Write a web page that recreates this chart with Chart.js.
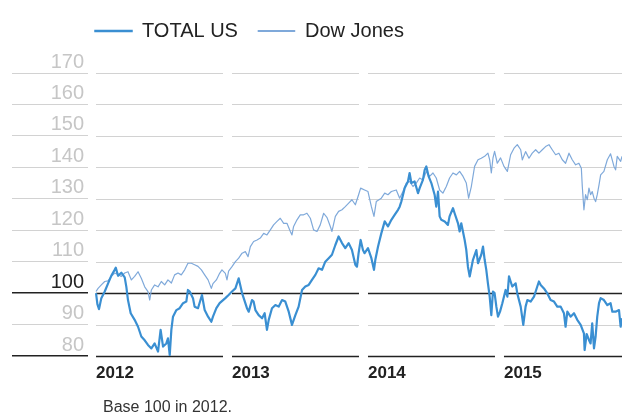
<!DOCTYPE html>
<html><head><meta charset="utf-8">
<script src="https://cdn.jsdelivr.net/npm/chart.js@4.4.0/dist/chart.umd.min.js"></script>
<style>
html,body{margin:0;padding:0;background:#fff;}
#wrap{position:relative;width:622px;height:415px;}
#note{position:absolute;left:103px;top:399px;font:16px "Liberation Sans",Arial,sans-serif;line-height:16px;color:#333;white-space:nowrap;}
</style></head><body>
<div id="wrap"><canvas id="c" width="622" height="415"></canvas><div id="note">Base 100 in 2012.</div></div>
<script>
const seriesNames = ['TOTAL US', 'Dow Jones'];
const yearTicks = [2012, 2013, 2014, 2015];
const valueTicks = [80, 90, 100, 110, 120, 130, 140, 150, 160, 170];

const totalUSTime = [2012.000,2012.010,2012.022,2012.039,2012.064,2012.088,2012.112,2012.137,2012.145,2012.162,2012.186,2012.211,2012.223,2012.235,2012.255,2012.284,2012.309,2012.333,2012.358,2012.382,2012.407,2012.431,2012.456,2012.475,2012.493,2012.517,2012.529,2012.542,2012.554,2012.566,2012.591,2012.615,2012.640,2012.664,2012.676,2012.689,2012.713,2012.725,2012.750,2012.779,2012.799,2012.824,2012.848,2012.860,2012.885,2012.909,2012.951,2012.975,
2013.000,2013.025,2013.049,2013.074,2013.086,2013.110,2013.123,2013.147,2013.159,2013.172,2013.196,2013.221,2013.240,2013.257,2013.270,2013.294,2013.319,2013.343,2013.368,2013.392,2013.417,2013.441,2013.466,2013.490,2013.515,2013.539,2013.564,2013.588,2013.613,2013.637,2013.662,2013.686,2013.711,2013.735,2013.760,2013.784,2013.809,2013.833,2013.858,2013.882,2013.907,2013.919,2013.931,2013.946,2013.963,2013.975,
2014.000,2014.025,2014.044,2014.054,2014.074,2014.098,2014.123,2014.147,2014.172,2014.196,2014.221,2014.233,2014.245,2014.270,2014.294,2014.306,2014.319,2014.343,2014.368,2014.380,2014.404,2014.417,2014.429,2014.446,2014.466,2014.490,2014.502,2014.515,2014.527,2014.539,2014.564,2014.588,2014.600,2014.625,2014.637,2014.662,2014.674,2014.686,2014.711,2014.723,2014.735,2014.748,2014.772,2014.797,2014.809,2014.833,2014.846,2014.858,2014.870,2014.882,2014.895,2014.907,2014.919,2014.931,2014.944,2014.956,2014.971,2014.988,
2015.012,2015.025,2015.037,2015.049,2015.061,2015.086,2015.098,2015.123,2015.142,2015.159,2015.172,2015.196,2015.221,2015.245,2015.257,2015.270,2015.294,2015.319,2015.343,2015.368,2015.392,2015.417,2015.441,2015.453,2015.466,2015.490,2015.515,2015.539,2015.564,2015.588,2015.593,2015.608,2015.625,2015.637,2015.649,2015.662,2015.674,2015.686,2015.699,2015.711,2015.735,2015.760,2015.784,2015.797,2015.821,2015.846,2015.858,2015.868];
const totalUSValue = [100.0,96.5,94.9,98.4,100.5,103.0,105.5,107.4,108.1,105.5,106.5,105.0,102.0,97.8,93.6,91.5,89.3,86.2,85.0,83.5,82.4,84.0,81.4,88.3,83.0,84.0,85.6,80.3,88.3,92.5,94.6,95.2,96.8,97.3,101.0,100.5,98.4,95.7,95.2,99.4,94.6,92.5,90.9,92.5,95.2,96.8,98.4,99.4,
100.5,101.5,104.7,100.0,98.4,95.2,94.1,97.8,97.3,94.6,93.0,92.0,93.6,88.3,91.5,95.2,96.2,95.7,97.8,97.3,94.1,89.9,93.0,95.7,101.0,102.1,102.6,104.2,105.8,107.9,107.4,110.0,111.1,112.2,115.3,118.0,115.9,114.3,115.9,113.7,109.0,108.4,112.7,116.9,113.7,112.7,
114.3,111.1,107.4,110.6,114.8,119.0,122.8,121.2,123.3,124.9,126.5,127.5,129.1,133.4,135.5,138.2,135.0,135.5,131.8,133.4,136.0,139.2,140.3,137.1,135.0,131.3,127.5,132.3,124.4,123.3,122.8,121.7,124.4,127.0,125.4,122.2,119.6,122.2,116.9,113.7,108.4,105.3,110.6,113.7,109.5,112.2,114.8,110.6,107.4,103.1,98.9,93.0,100.5,100.0,95.7,92.5,94.1,96.8,
101.0,98.9,105.3,103.7,102.1,103.1,99.9,95.7,89.9,95.7,97.8,97.3,98.9,102.1,103.7,102.6,101.5,99.9,97.8,97.3,95.7,95.7,93.6,89.3,94.1,92.5,93.6,91.5,89.9,87.2,81.9,87.0,85.1,84.0,90.4,82.4,86.2,92.5,96.8,98.4,97.8,96.2,96.8,94.1,94.1,94.6,89.3,92.0];

const dowTime = [2012.000,2012.015,2012.039,2012.064,2012.088,2012.113,2012.137,2012.162,2012.186,2012.211,2012.235,2012.260,2012.284,2012.309,2012.333,2012.358,2012.382,2012.395,2012.407,2012.431,2012.456,2012.480,2012.505,2012.529,2012.554,2012.578,2012.603,2012.627,2012.652,2012.676,2012.701,2012.725,2012.750,2012.775,2012.799,2012.824,2012.848,2012.860,2012.885,2012.909,2012.926,2012.951,2012.963,2012.975,
2013.000,2013.025,2013.049,2013.074,2013.098,2013.118,2013.135,2013.159,2013.184,2013.208,2013.233,2013.257,2013.282,2013.306,2013.331,2013.355,2013.380,2013.404,2013.429,2013.441,2013.453,2013.478,2013.502,2013.527,2013.551,2013.576,2013.600,2013.625,2013.649,2013.674,2013.699,2013.723,2013.735,2013.760,2013.784,2013.809,2013.833,2013.858,2013.882,2013.907,2013.931,2013.946,2013.975,
2014.000,2014.025,2014.044,2014.061,2014.098,2014.123,2014.147,2014.172,2014.208,2014.233,2014.257,2014.282,2014.306,2014.331,2014.355,2014.380,2014.404,2014.429,2014.453,2014.478,2014.502,2014.527,2014.551,2014.576,2014.600,2014.625,2014.650,2014.674,2014.699,2014.723,2014.740,2014.760,2014.784,2014.809,2014.833,2014.858,2014.882,2014.895,2014.907,2014.919,2014.931,2014.951,2014.975,
2015.000,2015.025,2015.049,2015.074,2015.098,2015.123,2015.135,2015.159,2015.184,2015.208,2015.233,2015.257,2015.282,2015.306,2015.331,2015.355,2015.380,2015.404,2015.429,2015.453,2015.478,2015.502,2015.527,2015.551,2015.569,2015.576,2015.588,2015.600,2015.613,2015.625,2015.637,2015.649,2015.662,2015.674,2015.686,2015.699,2015.711,2015.735,2015.760,2015.784,2015.809,2015.821,2015.833,2015.858,2015.868];
const dowValue = [100.5,101.5,102.6,103.7,103.9,105.3,106.4,105.9,105.3,106.4,106.8,104.2,105.3,106.8,104.7,102.0,100.5,97.8,101.0,102.6,102.0,103.7,102.6,104.2,103.2,105.8,106.4,105.8,107.4,109.5,109.5,109.0,108.5,107.4,105.8,104.2,101.5,103.0,104.2,106.3,107.4,106.3,104.2,107.0,
108.4,110.0,111.1,112.7,113.2,111.6,114.8,116.4,116.9,117.5,119.0,118.5,120.1,121.7,122.8,123.8,122.2,122.2,119.6,118.5,121.2,123.3,124.9,124.9,125.4,123.8,120.1,119.6,121.7,125.4,124.0,121.2,119.6,124.4,126.0,126.5,127.5,128.6,129.7,128.1,131.3,133.4,132.8,
132.3,127.5,124.4,129.1,130.2,131.8,131.3,132.3,132.8,130.2,132.3,135.0,135.5,133.9,135.0,136.6,136.0,138.7,137.1,138.2,136.6,132.8,131.8,133.9,136.6,138.2,137.6,138.7,137.1,135.0,130.2,133.9,140.3,142.4,142.9,143.5,144.5,142.4,138.2,142.9,145.1,141.3,143.0,
140.3,138.7,144.0,146.1,147.2,145.6,142.4,145.0,142.9,144.5,145.6,144.5,145.6,146.6,147.2,145.6,144.0,144.5,142.4,141.3,144.5,142.4,140.8,141.3,139.7,133.9,126.5,131.3,129.7,133.4,131.3,132.3,130.2,129.1,131.3,134.4,137.6,138.7,142.4,144.3,140.3,139.2,143.5,141.9,143.5];

const colTotal = '#3a8fd2';
const colDow = '#7fa9da';

Chart.defaults.font.family = '"Liberation Sans", Arial, Helvetica, sans-serif';

const segmentGrid = {
  id: 'segmentGrid',
  beforeDatasetsDraw(chart) {
    const {ctx, chartArea, scales} = chart;
    const x = scales.x, y = scales.y;
    ctx.save();
    y.ticks.forEach(t => {
      const dark = t.value === 100 || t.value === 80;
      const py = Math.round(y.getPixelForValue(t.value)) + 0.5;
      ctx.strokeStyle = dark ? '#222' : '#d2d2d2';
      ctx.lineWidth = dark ? 1.5 : 1;
      x.ticks.forEach(xt => {
        const x1 = x.getPixelForValue(xt.value);
        const x2 = Math.min(x.getPixelForValue(xt.value + 1) - 9, chartArea.right);
        ctx.beginPath(); ctx.moveTo(x1, py); ctx.lineTo(x2, py); ctx.stroke();
      });
    });
    ctx.restore();
  }
};
const legendShift = {
  id: 'legendShift',
  afterLayout(chart) {
    const l = chart.legend;
    if (l) { l.left += 63; l.right += 63; l.top -= 22; l.bottom -= 22; }
  }
};

new Chart(document.getElementById('c'), {
  type: 'line',
  data: {
    datasets: [
      { label: seriesNames[0], data: totalUSTime.map((t, i) => ({x: t, y: totalUSValue[i]})),
        borderColor: colTotal, backgroundColor: colTotal, borderWidth: 2.2, pointRadius: 0, tension: 0, borderJoinStyle: 'round' },
      { label: seriesNames[1], data: dowTime.map((t, i) => ({x: t, y: dowValue[i]})),
        borderColor: colDow, backgroundColor: colDow, borderWidth: 1.2, pointRadius: 0, tension: 0, borderJoinStyle: 'round' }
    ]
  },
  options: {
    responsive: false, animation: false, devicePixelRatio: 1,
    layout: { padding: { left: 12, right: 0, top: 0, bottom: 0 } },
    plugins: {
      tooltip: { enabled: false },
      legend: {
        position: 'top', align: 'start',
        labels: {
          boxWidth: 37, boxHeight: 1, padding: 20, color: '#222', font: { size: 20 },
          generateLabels(chart) {
            return chart.data.datasets.map((d, i) => ({
              text: d.label, fillStyle: d.borderColor, strokeStyle: d.borderColor,
              lineWidth: i === 0 ? 1.5 : 1, fontColor: '#222', datasetIndex: i, hidden: false
            }));
          }
        }
      }
    },
    scales: {
      x: {
        type: 'linear', min: 2011.941, max: 2015.868,
        afterBuildTicks(s) { s.ticks = yearTicks.map(v => ({value: v})); },
        afterFit(s) { s.height = 59; s.paddingLeft = 0; s.paddingRight = 0; },
        grid: { display: false, drawTicks: false },
        border: { display: false },
        ticks: { align: 'start', padding: 7, maxRotation: 0, autoSkip: false, color: '#222',
          font: { size: 17, weight: 'bold' }, callback: v => String(v) }
      },
      y: {
        min: 80, max: 170,
        afterBuildTicks(s) { s.ticks = valueTicks.map(v => ({value: v})); },
        afterFit(s) { s.width = 76; s.paddingTop = 73; },
        grid: { drawOnChartArea: false, drawTicks: true, tickLength: 76,
          color: c => (c.tick && (c.tick.value === 100 || c.tick.value === 80)) ? '#222' : '#d2d2d2',
          lineWidth: c => (c.tick && (c.tick.value === 100 || c.tick.value === 80)) ? 1.5 : 1 },
        border: { display: false },
        ticks: { padding: -72, labelOffset: -11, font: { size: 20 },
          color: c => c.tick.value === 100 ? '#222' : '#c6c6c6', callback: v => String(v) }
      }
    }
  },
  plugins: [segmentGrid, legendShift]
});
</script>
</body></html>
